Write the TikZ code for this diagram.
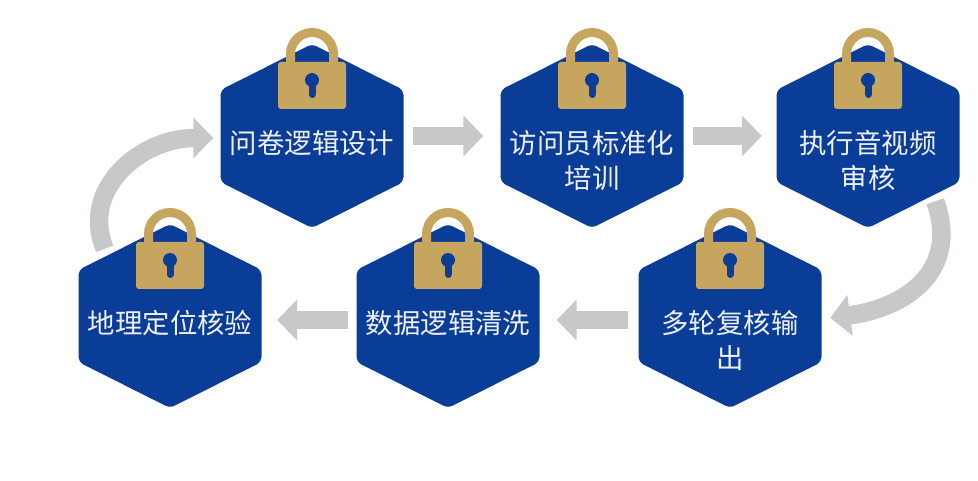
\documentclass[tikz,border=0pt]{standalone}
\usepackage{fontspec}
\setmainfont{Noto Sans CJK SC}
\usetikzlibrary{arrows.meta, positioning, calc}
\definecolor{hexblue}{HTML}{0A3D98}
\definecolor{lockgold}{HTML}{C6A65E}
\definecolor{flowgray}{HTML}{C7C9C9}
\definecolor{steptext}{HTML}{EEF0F6}
\tikzset{
  hexbox/.style={rectangle, minimum width=183pt, minimum height=184pt, inner sep=0pt},
  steplabel/.style={anchor=north, align=center, inner sep=0pt, text=steptext,
    font=\fontsize{27.4}{35}\selectfont},
  flowarrow/.style={draw=flowgray, line width=18.5pt,
    -{Triangle[length=20pt, width=40pt]}}
}

\begin{document}
\begin{tikzpicture}[x=1pt, y=1pt]
    \useasboundingbox (0,0) rectangle (978,480);

    % 1. hexagons, padlocks and labels
    \foreach \x/\y/\name/\txt in {312/344/design/{问卷逻辑设计},
        592/344/training/{访问员标准化\\培训},
        868/344/review/{执行音视频\\审核},
        730/164/recheck/{多轮复核输\\出},
        448/164/cleaning/{数据逻辑清洗},
        170/164/geocheck/{地理定位核验}}{
      \fill[hexblue, rounded corners=5pt] (\x,\y+92) -- (\x+91.5,\y+46) -- (\x+91.5,\y-46)
        -- (\x,\y-92) -- (\x-91.5,\y-46) -- (\x-91.5,\y+46) -- cycle;
      \begin{scope}[shift={(\x,\y)}]
        \draw[lockgold, line width=9pt] (-21.5,68) -- (-21.5,82) arc (180:0:21.5) -- (21.5,68);
        \fill[lockgold, rounded corners=3pt] (-34,27) rectangle (34,74);
        \fill[hexblue] (0,56) circle (7);
        \draw[hexblue, line width=7pt, line cap=round] (0,54) -- (0,41.5);
      \end{scope}
      \node[hexbox] (\name) at (\x,\y) {};
      \node[steplabel] (\name-text) at (\x,\y+6) {\txt};
    }

    % 2. straight arrows
    \draw[flowarrow, shorten <=9pt, shorten >=17pt] (design.east) -- (training.west);
    \draw[flowarrow, shorten <=9pt, shorten >=14.5pt] (training.east) -- (review.west);
    \draw[flowarrow, shorten <=10pt, shorten >=17pt] ([yshift=-4pt]recheck.west) -- ([yshift=-4pt]cleaning.east);
    \draw[flowarrow, shorten <=8.5pt, shorten >=15.5pt] ([yshift=-4pt]cleaning.west) -- ([yshift=-4pt]geocheck.east);

    % 3. curved arrows
    \coordinate (reviewout) at ([shift={(-24.5,27)}]review.south east);
    \coordinate (recheckin) at ([shift={(8.5,-2)}]recheck.east);
    \draw[flowarrow] (reviewout) .. controls +(25,-70) and +(75,10) .. (recheckin);
    \coordinate (geoout) at ([shift={(26.5,-25)}]geocheck.north west);
    \coordinate (designin) at ([shift={(-7,-2)}]design.west);
    \draw[flowarrow] (geoout) .. controls +(-25,59) and +(-73,0) .. (designin);
\end{tikzpicture}
\end{document}
